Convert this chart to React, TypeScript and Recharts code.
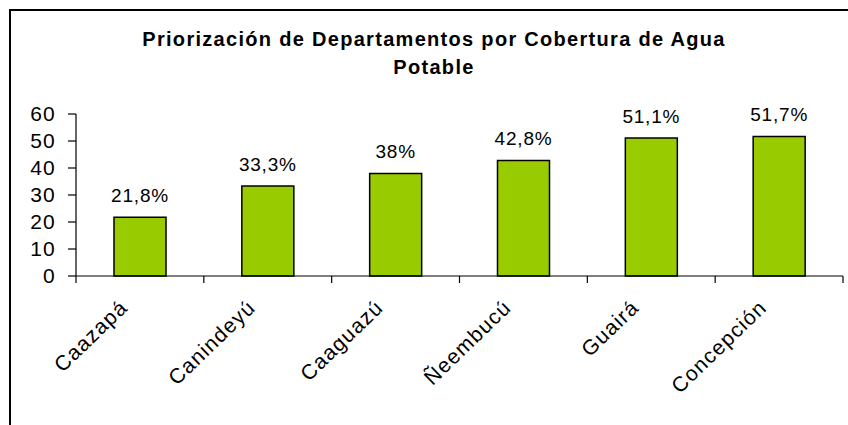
import React from 'react';
import { BarChart, Bar, XAxis, YAxis, LabelList } from 'recharts';

const departamentos = ['Caazapá', 'Canindeyú', 'Caaguazú', 'Ñeembucú', 'Guairá', 'Concepción'];
const cobertura = [21.8, 33.3, 38, 42.8, 51.1, 51.7];
const yTicks = [0, 10, 20, 30, 40, 50, 60];
const titleLines = ['Priorización de Departamentos por Cobertura de Agua', 'Potable'];

const W = 848;
const H = 425;
const FONT = '"Liberation Sans", Arial, sans-serif';
const margin = { top: 114, right: 5, bottom: 49, left: 0 };
const Y_AXIS_W = 76;
const band = (W - margin.left - margin.right - Y_AXIS_W) / departamentos.length;

const data = departamentos.map((d, i) => ({ name: d, value: cobertura[i] }));

function XTick(props: any) {
  const { x, y, payload, index } = props;
  const left = x - band / 2;
  const last = index === departamentos.length - 1;
  const ax = x - 11;
  const ay = y + 33;
  return (
    <g>
      <line x1={left} x2={left} y1={y} y2={y + 7} stroke="#000" strokeWidth={1.2} />
      {last && <line x1={x + band / 2} x2={x + band / 2} y1={y} y2={y + 7} stroke="#000" strokeWidth={1.2} />}
      <text
        x={ax}
        y={ay}
        textAnchor="end"
        transform={`rotate(-44, ${ax}, ${ay})`}
        style={{ fontFamily: FONT, fontSize: 21, letterSpacing: 1.2 }}
        fill="#000"
      >
        {payload.value}
      </text>
    </g>
  );
}

const fmt = (v: any) => String(v).replace('.', ',') + '%';

export default function App() {
  return (
    <div style={{ position: 'absolute', left: 0, top: 0, width: W, height: H, background: '#fff', overflow: 'hidden' }}>
      <div
        style={{
          position: 'absolute',
          left: 9,
          top: 9,
          width: W,
          height: H,
          borderTop: '2px solid #000',
          borderLeft: '2px solid #000',
        }}
      />
      <svg width={W} height={H} style={{ position: 'absolute', left: 0, top: 0 }}>
        {titleLines.map((t, i) => (
          <text
            key={i}
            x={434}
            y={46 + i * 28}
            textAnchor="middle"
            style={{ fontFamily: FONT, fontSize: 20, fontWeight: 'bold', letterSpacing: 1.3 }}
            fill="#000"
          >
            {t}
          </text>
        ))}
      </svg>
      <div style={{ position: 'absolute', left: 0, top: 0 }}>
        <BarChart width={W} height={H} data={data} margin={margin}>
          <XAxis
            dataKey="name"
            height={100}
            tickLine={false}
            tickSize={0}
            tickMargin={0}
            interval={0}
            axisLine={{ stroke: '#000', strokeWidth: 1.2 }}
            tick={<XTick />}
          />
          <YAxis
            width={Y_AXIS_W}
            domain={[0, 60]}
            ticks={yTicks}
            interval={0}
            tickSize={8}
            tickMargin={12}
            axisLine={{ stroke: '#000', strokeWidth: 1.2 }}
            tickLine={{ stroke: '#000', strokeWidth: 1.2 }}
            tick={{ fill: '#000', fontSize: 21, fontFamily: FONT, letterSpacing: 1.2 }}
          />
          <Bar dataKey="value" fill="#99CC00" stroke="#000" strokeWidth={1.5} barSize={52} isAnimationActive={false}>
            <LabelList
              dataKey="value"
              position="top"
              offset={15}
              formatter={fmt}
              style={{ fill: '#000', fontSize: 19, fontFamily: FONT, letterSpacing: 0.8 }}
            />
          </Bar>
        </BarChart>
      </div>
    </div>
  );
}
